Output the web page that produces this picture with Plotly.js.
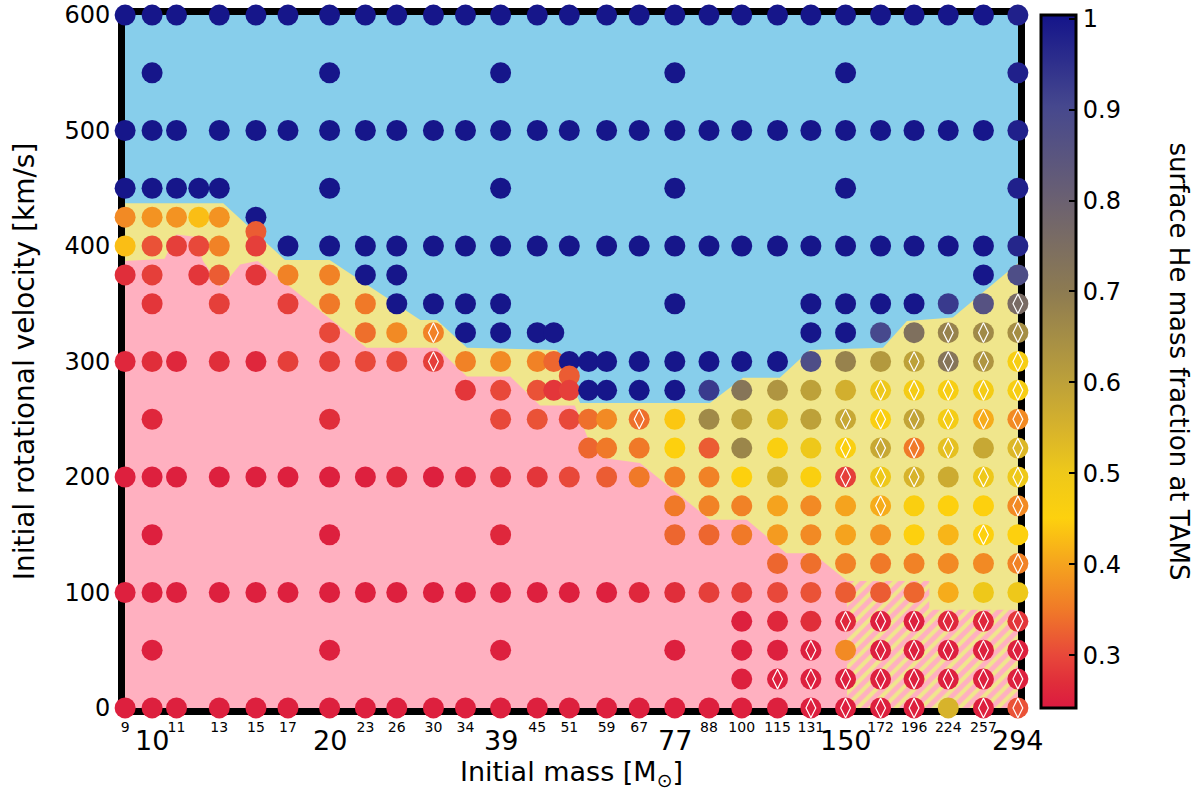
<!DOCTYPE html>
<html><head><meta charset="utf-8">
<script src="https://cdn.plot.ly/plotly-3.0.1.min.js"></script>
<style>html,body{margin:0;padding:0;background:#fff}#chart{width:1200px;height:794px}</style>
</head><body><div id="chart"></div>
<script>
const _ = null;
// model grid: initial masses (columns) and initial rotational velocities (rows)
const masses = [9,10,11,12,13,15,17,20,23,26,30,34,39,45,48,51,55,59,67,77,88,100,115,131,150,172,196,224,257,294];
const velocities = [600,550,500,450,425,412.5,400,375,350,325,300,287.5,275,250,225,200,175,150,125,100,75,50,25,0];
// surface He mass fraction at TAMS, one row per velocity, one entry per mass (null = no model)
const heTAMS = [
 [1,1,1,_,1,1,1,1,1,1, 1,1,1,1,_,1,_,1,1,1, 1,1,1,1,1,1,1,1,1,.98],
 [_,1,_,_,_,_,_,1,_,_, _,_,1,_,_,_,_,_,_,1, _,_,_,_,1,_,_,_,_,.98],
 [1,1,1,_,1,1,1,1,1,1, 1,1,1,1,_,1,_,1,1,1, 1,1,1,1,1,1,1,1,1,.98],
 [1,1,1,1,1,_,_,1,_,_, _,_,1,_,_,_,_,_,_,1, _,_,_,_,1,_,_,_,_,.98],
 [.37,.38,.38,.43,.38,1,_,_,_,_, _,_,_,_,_,_,_,_,_,_, _,_,_,_,_,_,_,_,_,_],
 [_,_,_,_,_,.32,_,_,_,_, _,_,_,_,_,_,_,_,_,_, _,_,_,_,_,_,_,_,_,_],
 [.43,.31,.29,.30,.36,.29,1,1,1,1, 1,1,1,1,_,1,_,1,1,1, 1,1,1,1,1,1,1,1,1,.97],
 [.27,.29,_,.28,.32,.28,.36,.36,1,1, _,_,_,_,_,_,_,_,_,_, _,_,_,_,_,_,_,_,1,.88],
 [_,.28,_,_,.29,_,.29,.35,.35,1, 1,1,1,_,_,_,_,_,_,1, _,_,_,1,1,1,1,.93,.86,.76],
 [_,_,_,_,_,_,_,.30,.34,.37, .36,1,1,1,1,_,_,_,_,_, _,_,_,1,1,.9,.74,.68,.66,.65],
 [.26,.27,.26,_,.27,.26,.29,.29,.30,.30, .29,.36,.37,.36,.33,1,1,1,1,1, 1,1,1,.88,.68,.62,.60,.72,.63,.47],
 [_,_,_,_,_,_,_,_,_,_, _,_,_,_,_,.32,_,_,_,_, _,_,_,_,_,_,_,_,_,_],
 [_,_,_,_,_,_,_,_,_,_, _,.28,.30,.31,.28,.29,1,1,1,1, .93,.72,.63,.60,.56,.50,.48,.47,.48,.47],
 [_,.26,_,_,_,_,_,.27,_,_, _,_,.30,.31,_,.30,.34,.37,.34,.44, .66,.60,.52,.60,.58,.46,.59,.48,.41,.37],
 [_,_,_,_,_,_,_,_,_,_, _,_,_,_,_,_,.33,.35,.35,.45, .32,.67,.46,.50,.46,.58,.35,.52,.58,.54],
 [.25,.25,.25,_,.25,.25,.25,.25,.25,.26, .25,.26,.27,.28,_,.30,_,.32,.35,.36, .36,.45,.55,.46,.29,.50,.55,.57,.50,.50],
 [_,_,_,_,_,_,_,_,_,_, _,_,_,_,_,_,_,_,_,.35, .36,.36,.40,.37,.40,.41,.46,.45,.45,.37],
 [_,.25,_,_,_,_,_,.25,_,_, _,_,.26,_,_,_,_,_,_,.33, .33,.35,.39,.37,.40,.38,.45,.42,.45,.45],
 [_,_,_,_,_,_,_,_,_,_, _,_,_,_,_,_,_,_,_,_, _,_,.33,.34,.36,.35,.36,.37,.37,.36],
 [.25,.25,.25,_,.25,.25,.25,.25,.25,.25, .25,.25,.25,.25,_,.25,_,.25,.26,.27, .29,.29,.30,.31,.32,.32,.33,.41,.50,.50],
 [_,_,_,_,_,_,_,_,_,_, _,_,_,_,_,_,_,_,_,_, _,.25,.26,.27,.26,.25,.25,.26,.26,.28],
 [_,.25,_,_,_,_,_,.25,_,_, _,_,.25,_,_,_,_,_,_,.25, _,.25,.25,.25,.37,.25,.25,.25,.25,.25],
 [_,_,_,_,_,_,_,_,_,_, _,_,_,_,_,_,_,_,_,_, _,.25,.25,.25,.25,.25,.25,.25,.25,.25],
 [.25,.25,.25,_,.25,.25,.25,.25,.25,.25, .25,.25,.25,.25,_,.25,_,.25,.25,.25, .25,.25,.25,.25,.25,.25,.25,.55,.25,.31]
];
// models flagged with a diamond
const diamondMass = [30,30,67, 294, 224,257,294, 196,224,257,294, 172,196,224,257,294,
  150,172,196,224,257,294, 150,172,196,224,294, 150,172,196,257,294, 172,294, 257, 294,
  150,172,196,224,257,294, 131,172,196,224,257,294, 115,131,150,172,196,224,257,294,
  131,150,172,196,257,294];
const diamondVel = [325,300,250, 350, 325,325,325, 300,300,300,300, 275,275,275,275,275,
  250,250,250,250,250,250, 225,225,225,225,225, 200,200,200,200,200, 175,175, 150, 125,
  75,75,75,75,75,75, 50,50,50,50,50,50, 25,25,25,25,25,25,25,25,
  0,0,0,0,0,0];
// region boundaries (mass, velocity)
const blueEdgeM = [9,13.2,16.8,20,28.5,30.4,34.2,48.6,53.2,88.3,100.5,116,130.5,173.6,190.6,228,294];
const blueEdgeV = [437,437,388,388,336,336,312,310,264,264,286,286,310,312,335,338,385];
const pinkEdgeM = [9,10.5,11.0,11.8,12.2,13.1,14.1,15.1,23.1,30.4,34.2,40.5,45.5,52.1,55.3,59.1,67.2,88.3,102,119,132,151];
const pinkEdgeV = [387,389,410,408,387,364,384,387,312,312,287,287,262,262,229,216,212,163,163,134,134,110];
const hatchM = [151,208,208,294];
const hatchV = [110,110,85,85];
const smallTicks = [9,11,13,15,17,23,26,30,34,45,51,59,67,88,100,115,131,172,196,224,257];
const bigTicks = [10,20,39,77,150,294];
const yTicks = [0,100,200,300,400,500,600];
const cbTicks = [0.3,0.4,0.5,0.6,0.7,0.8,0.9,1];

const xs=[], ys=[], cs=[];
velocities.forEach((v,i)=>masses.forEach((m,j)=>{const h=heTAMS[i][j]; if(h!==null){xs.push(m);ys.push(v);cs.push(h);}}));

const mMin=masses[0], mMax=masses[masses.length-1];
const fillBase = {type:'scatter', mode:'lines', fill:'toself', line:{width:0}, hoverinfo:'skip', showlegend:false};
const traces = [
 Object.assign({}, fillBase, {x:[mMin,mMax,mMax,mMin], y:[0,0,600,600], fillcolor:'#87CEEB'}),
 Object.assign({}, fillBase, {x:blueEdgeM.concat([mMax,mMin]), y:blueEdgeV.concat([0,0]), fillcolor:'#F0E68C'}),
 Object.assign({}, fillBase, {x:pinkEdgeM.concat([hatchM[0],mMin]), y:pinkEdgeV.concat([0,0]), fillcolor:'#FFB0C0'}),
 Object.assign({}, fillBase, {x:hatchM.concat([mMax,hatchM[0]]), y:hatchV.concat([0,0]), fillcolor:'#FFB0C0',
   fillpattern:{shape:'/', bgcolor:'#FFB0C0', fgcolor:'#F0E68C', size:9, solidity:0.45}}),
 {type:'scatter', mode:'markers', x:xs, y:ys, cliponaxis:false, showlegend:false,
  marker:{size:21, color:cs, cmin:0.242, cmax:1.004, line:{width:0},
   colorscale:[[0,'#DC1A40'],[0.037,'#E02E3A'],[0.0765,'#E8483A'],[0.1425,'#F07A28'],[0.2084,'#F5A41E'],
     [0.2744,'#FDD10E'],[0.3404,'#EEC81A'],[0.4063,'#D6B22C'],[0.4723,'#BCA03A'],[0.6042,'#8C7A52'],
     [0.7361,'#6A6072'],[0.8681,'#46488E'],[1,'#14148A']],
   colorbar:{x:1.0258, xanchor:'left', xpad:0, ypad:0, y:0.5, yanchor:'middle', len:1, lenmode:'fraction',
     thickness:35, outlinewidth:3, outlinecolor:'#000', tickvals:cbTicks, ticktext:cbTicks.map(String),
     ticks:'inside', ticklen:8, tickwidth:2, tickcolor:'#000', ticklabeloverflow:'allow',
     tickfont:{size:24, family:'DejaVu Sans', color:'#000'}}}},
 {type:'scatter', mode:'markers', x:diamondMass, y:diamondVel, cliponaxis:false, showlegend:false, hoverinfo:'skip',
  marker:{symbol:'diamond-tall-open', size:14, color:'#FFFFFF', line:{width:1.2, color:'#FFFFFF'}}}
];

const xr=[Math.log10(mMin)-0.0002, Math.log10(mMax)+0.0002];
const bigLabels = bigTicks.map(m=>({xref:'x', yref:'paper', x:Math.log10(m), y:-0.0462, xanchor:'center', yanchor:'middle',
  text:String(m), showarrow:false, font:{size:27, family:'DejaVu Sans', color:'#000'}}));
const layout = {
 width:1200, height:794,
 margin:{l:125, r:182, t:15, b:86},
 paper_bgcolor:'#FFFFFF', plot_bgcolor:'#87CEEB', showlegend:false,
 font:{family:'DejaVu Sans', color:'#000'},
 xaxis:{type:'log', range:xr, tickvals:smallTicks, ticktext:smallTicks.map(String), tickfont:{size:14},
   showgrid:false, zeroline:false, showline:true, linewidth:7, linecolor:'#000', mirror:true,
   layer:'below traces', ticks:'', automargin:false, ticklabeloverflow:'allow',
   title:{text:'Initial mass [M<sub>⊙</sub>]', font:{size:27}, standoff:31}},
 yaxis:{range:[-0.05,600.05], tickvals:yTicks, ticktext:yTicks.map(String), tickfont:{size:24},
   showgrid:false, zeroline:false, showline:true, linewidth:7, linecolor:'#000', mirror:true,
   layer:'below traces', ticks:'', ticklabelstandoff:3, automargin:false, ticklabeloverflow:'allow',
   title:{text:'Initial rotational velocity [km/s]', font:{size:28}, standoff:24}},
 annotations:bigLabels.concat([{xref:'paper', yref:'paper', x:1.1814, y:0.5, xanchor:'center', yanchor:'middle',
   text:'surface He mass fraction at TAMS', textangle:90, showarrow:false, font:{size:26, family:'DejaVu Sans'}}])
};
Plotly.newPlot('chart', traces, layout, {displayModeBar:false, staticPlot:true});
</script></body></html>
